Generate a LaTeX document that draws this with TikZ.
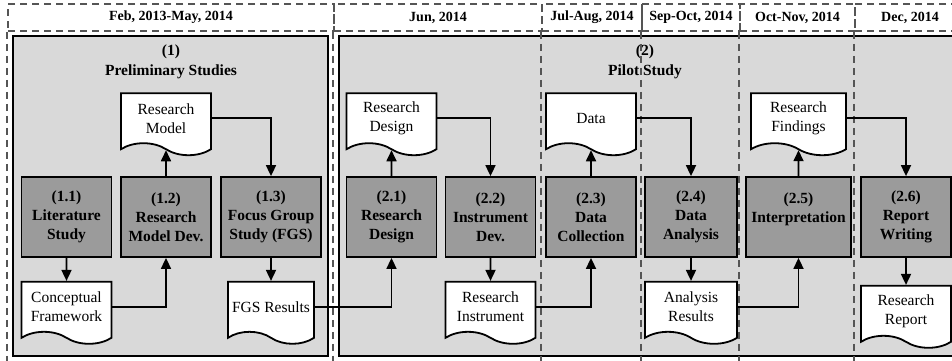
\documentclass[tikz,border=0pt]{standalone}
\usepackage{fontspec}
\setmainfont{Liberation Serif}
\usetikzlibrary{arrows.meta,positioning,shapes.symbols}

\definecolor{panelgray}{RGB}{217,217,217}
\definecolor{boxgray}{RGB}{155,155,155}
\definecolor{dashgray}{RGB}{85,85,85}

\begin{document}
\begin{tikzpicture}[
    x=1pt, y=-1pt,
    >={Triangle[length=11pt,width=10pt]},
    header/.style={
        draw=dashgray,
        dashed,
        dash pattern=on 7pt off 5pt,
        line width=1.6pt,
        minimum height=27pt,
        inner sep=0pt,
        font=\fontsize{14}{17}\selectfont\bfseries
    },
    vline/.style={
        draw=dashgray,
        dash pattern=on 7pt off 5pt,
        line width=1.6pt
    },
    panel/.style={
        draw,
        line width=1.8pt,
        fill=panelgray,
        minimum height=320pt
    },
    title/.style={
        align=center,
        font=\fontsize{15.5}{20}\selectfont\bfseries
    },
    procbox/.style={
        draw,
        line width=1.8pt,
        fill=boxgray,
        align=center,
        inner sep=2pt,
        minimum width=90pt,
        minimum height=80pt,
        font=\fontsize{15.5}{19}\selectfont\bfseries
    },
    docbox/.style={
        draw,
        tape,
        tape bend top=none,
        tape bend bottom=out and in,
        tape bend height=12pt,
        line width=1.8pt,
        fill=white,
        align=center,
        inner sep=2pt,
        minimum width=90pt,
        minimum height=62pt,
        font=\fontsize{15.5}{19}\selectfont
    },
    arr/.style={->, line width=1.7pt}
]
\useasboundingbox (0,0) rectangle (952,360);

% stages
\node[panel, minimum width=315pt] (prelim) at (170.5,196) {};
\node[panel, minimum width=622pt] (pilot) at (650,196) {};
\node[title] (t1) at (171,62) {(1)\\Preliminary Studies};
\node[title] (t2) at (645,62) {(2)\\Pilot Study};

% time line
\node[header, minimum width=326pt] (h1) at (171,17.5) {Feb, 2013-May, 2014};
\node[header, minimum width=208pt] (h2) at (438,17.5) {Jun, 2014};
\node[header, minimum width=100pt] (h3) at (592,17.5) {Jul-Aug, 2014};
\node[header, minimum width=98pt] (h4) at (691,17.5) {Sep-Oct, 2014};
\node[header, minimum width=115pt] (h5) at (797.5,17.5) {Oct-Nov, 2014};
\node[header, minimum width=110pt] (h6) at (910,17.5) {Dec, 2014};
\coordinate (bot) at (0,362);
\foreach \h in {h1,h2,h3,h4,h5,h6}
    \draw[vline] (\h.south west) -- (\h.south west |- bot);

% activities
\node[procbox] (p11) at (66.5,217) {(1.1)\\Literature\\Study};
\node[procbox] (p12) at (166,217) {(1.2)\\Research\\Model Dev.};
\node[procbox, minimum width=100pt] (p13) at (271,217) {(1.3)\\Focus Group\\Study (FGS)};
\node[procbox] (p21) at (391.5,217) {(2.1)\\Research\\Design};
\node[procbox] (p22) at (490.5,217) {(2.2)\\Instrument\\Dev.};
\node[procbox] (p23) at (591,217) {(2.3)\\Data\\Collection};
\node[procbox, minimum width=92pt] (p24) at (691,217) {(2.4)\\Data\\Analysis};
\node[procbox, minimum width=105pt] (p25) at (798.5,217) {(2.5)\\Interpretation\\\mbox{}};
\node[procbox] (p26) at (906,217) {(2.6)\\Report\\Writing};

% outputs
\node[docbox, above=32pt of p12] (rmodel) {Research\\Model};
\node[docbox, below=23pt of p11] (cframe) {Conceptual\\Framework};
\node[docbox, minimum width=86pt, below=23pt of p13] (fgs) {FGS Results};
\node[docbox, above=32pt of p21] (rdesign) {Research\\Design};
\node[docbox, below=23pt of p22] (rinstr) {Research\\Instrument};
\node[docbox, above=32pt of p23] (data) {Data};
\node[docbox, minimum width=92pt, below=23pt of p24] (aresults) {Analysis\\Results};
\node[docbox, minimum width=95pt, above=32pt of p25] (rfind) {Research\\Findings};
\node[docbox, below=27pt of p26] (rreport) {Research\\Report};

\draw[arr] (p11) -- (cframe);
\draw[arr] (cframe.east) -| (p12.south);
\draw[arr] (p12) -- (rmodel);
\draw[arr] (rmodel.east) -| (p13.north);
\draw[arr] (p13) -- (fgs);
\draw[arr] (fgs.east) -| (p21.south);
\draw[arr] (p21) -- (rdesign);
\draw[arr] (rdesign.east) -| (p22.north);
\draw[arr] (p22) -- (rinstr);
\draw[arr] (rinstr.east) -| (p23.south);
\draw[arr] (p23) -- (data);
\draw[arr] (data.east) -| (p24.north);
\draw[arr] (p24) -- (aresults);
\draw[arr] (aresults.east) -| (p25.south);
\draw[arr] (p25) -- (rfind);
\draw[arr] (rfind.east) -| (p26.north);
\draw[arr] (p26) -- (rreport);

\end{tikzpicture}
\end{document}
